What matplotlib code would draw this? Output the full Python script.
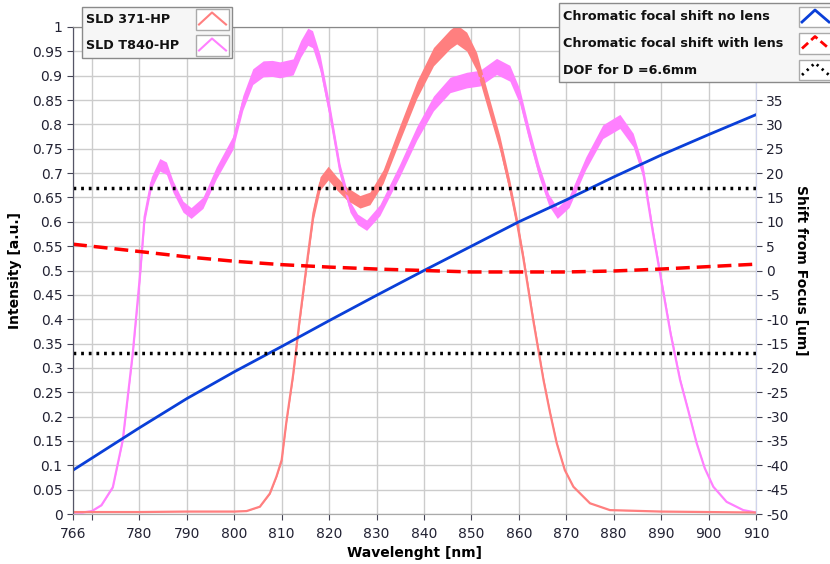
import numpy as np
import matplotlib
matplotlib.use("Agg")
import matplotlib.pyplot as plt
from matplotlib.patches import Rectangle
from matplotlib.lines import Line2D

plt.rcParams['font.family'] = ['DejaVu Sans']
plt.rcParams['axes.unicode_minus'] = False

# SLD 371-HP spectrum (wavelength nm, normalised intensity)
wl_371 = [766, 780, 790, 800, 802.6, 805.4, 807.5, 808.9, 810, 811, 812.4, 813.8,
          815.3, 816.7, 818.1, 819.8, 821.6, 823.7, 826.5, 828.6, 831.4, 834.9,
          838.5, 842, 845.5, 846.9, 849, 851.1, 853.2, 856, 858.1, 859.5, 860.9,
          863, 865.2, 866.6, 868, 869.7, 871.5, 875, 879.2, 890, 900, 910]
int_371 = [0.004, 0.004, 0.005, 0.005, 0.006, 0.015, 0.042, 0.077, 0.111, 0.19, 0.285, 0.40,
           0.515, 0.618, 0.679, 0.70, 0.679, 0.658, 0.641, 0.648, 0.693, 0.782,
           0.871, 0.939, 0.975, 0.985, 0.97, 0.929, 0.857, 0.761, 0.672, 0.604, 0.528,
           0.40, 0.275, 0.207, 0.145, 0.09, 0.056, 0.022, 0.008, 0.005, 0.004, 0.003]

# SLD T840-HP spectrum
wl_t840 = [766, 768, 770, 772, 774.4, 776.5, 778.6, 780.1, 781.1, 782.5, 784.3, 785.7,
           787.1, 789.2, 790.9, 793.4, 796.2, 799.7, 801.8, 803.9, 806.1, 808, 809.6,
           812.4, 814, 815.5, 816.5, 818.1, 820.2, 822.3, 824.4, 826, 827.9, 830.7,
           834.9, 838.5, 842, 845.5, 849, 851.8, 855.3, 858.1, 860.2, 862.1, 864.2,
           866.3, 868.1, 870.6, 874.1, 877.7, 881.3, 884.1, 886.2, 888.3, 890.5, 892,
           894, 895.7, 897.5, 899.2, 901, 903.8, 907.3, 910]
int_t840 = [0.003, 0.003, 0.006, 0.018, 0.055, 0.152, 0.33, 0.487, 0.61, 0.68, 0.717, 0.71,
            0.672, 0.631, 0.618, 0.639, 0.70, 0.762, 0.844, 0.898, 0.914, 0.915, 0.912,
            0.918, 0.955, 0.98, 0.975, 0.926, 0.823, 0.706, 0.631, 0.605, 0.593, 0.624,
            0.706, 0.782, 0.843, 0.881, 0.891, 0.895, 0.919, 0.905, 0.857, 0.782, 0.706,
            0.645, 0.618, 0.641, 0.72, 0.785, 0.806, 0.768, 0.703, 0.576, 0.453, 0.37,
            0.275, 0.213, 0.145, 0.094, 0.056, 0.025, 0.008, 0.003]

# chromatic focal shift (um)
wl_shift = [766, 780, 790, 800, 810, 820, 830, 840, 850, 860, 870, 880, 890, 900, 910]
shift_no_lens = [-41, -32.3, -26.3, -20.8, -15.6, -10.3, -5.1, 0, 5.0, 10.0, 14.5, 19.2, 23.7, 27.9, 32]
shift_with_lens = [5.4, 3.9, 2.8, 1.9, 1.2, 0.7, 0.3, 0.0, -0.3, -0.3, -0.3, -0.1, 0.3, 0.8, 1.3]
dof_limits = [17, -17]

x_ticks = [766, 770, 780, 790, 800, 810, 820, 830, 840, 850, 860, 870, 880, 890, 900, 910]
x_labels = ["766", ""] + [str(t) for t in x_ticks[2:]]
# right axis labels above 35 sit behind the legend box
r_ticks = list(range(-50, 51, 5))
r_labels = [str(t) if t <= 35 else "" for t in r_ticks]

legend_left = ["SLD 371-HP", "SLD T840-HP"]
legend_right = ["Chromatic focal shift no lens", "Chromatic focal shift with lens", "DOF for D =6.6mm"]

c_371 = "#ff7f7f"
c_t840 = "#ff80ff"
c_blue = "#0a3fd8"
c_red = "#ff0000"

W, H = 830, 564
fig = plt.figure(figsize=(8.3, 5.64), dpi=100)
ax = fig.add_axes([73 / W, 50 / H, 683 / W, 487 / H])
ax2 = ax.twinx()

# noisy spectra: thin centre line plus a narrow band showing the measurement noise
w1, i1 = np.array(wl_371), np.array(int_371)
w2, i2 = np.array(wl_t840), np.array(int_t840)
ax.fill_between(w2, i2 * 0.982, i2 * 1.018, color=c_t840, lw=0)
ax.plot(w2, i2, color=c_t840, lw=1.6)
ax.fill_between(w1, i1 * 0.98, i1 * 1.02, color=c_371, lw=0)
ax.plot(w1, i1, color=c_371, lw=1.6)

ax.set_xlim(766, 910)
ax.set_ylim(0, 1)
ax.set_xticks(x_ticks)
ax.set_xticklabels(x_labels)
yt = np.round(np.arange(0, 1.001, 0.05), 2)
ax.set_yticks(yt)
ax.set_yticklabels([f"{v:g}" for v in yt])
ax.grid(True, color="#cccccc", lw=1)
ax.set_axisbelow(True)
ax.tick_params(labelsize=10, colors="#444455", labelcolor="#222233", length=4)
ax.tick_params(axis="x", pad=5)
ax.set_xlabel("Wavelenght [nm]", fontsize=10, fontweight="bold", labelpad=4)
ax.set_ylabel("Intensity [a.u.]", fontsize=10, fontweight="bold", labelpad=7)

ax2.plot(wl_shift, shift_no_lens, color=c_blue, lw=2)
ax2.plot(wl_shift, shift_with_lens, color=c_red, lw=2.5, dashes=(4, 2))
for d in dof_limits:
    ax2.plot([766, 910], [d, d], color="black", lw=2.5, dashes=(0.8, 1.4))
ax2.set_ylim(-50, 50)
ax2.set_yticks(r_ticks)
ax2.set_yticklabels(r_labels)
ax2.tick_params(labelsize=10, colors="#444455", labelcolor="#222233", length=4)
ax2.set_ylabel("Shift from Focus [um]", fontsize=10, fontweight="bold", rotation=270, labelpad=14)

for a in (ax, ax2):
    a.spines["left"].set_color("#555566")
    a.spines["bottom"].set_color("#aaaaaa")
    a.spines["top"].set_color("#888888")
    a.spines["right"].set_color("#d0d4ec")


# LabVIEW style legend boxes, drawn in figure pixels
def fx(px):
    return px / W


def fy(py):
    return 1 - py / H


def legend_box(x0, y0, x1, y1, labels, styles, hx0, row_h, first_row):
    fig.patches.append(Rectangle((fx(x0), fy(y1)), fx(x1 - x0), (y1 - y0) / H,
                                 transform=fig.transFigure, facecolor="#f6f6f6",
                                 edgecolor="#8a8a8a", lw=1, zorder=10))
    for k, (lab, st) in enumerate(zip(labels, styles)):
        yc = first_row + k * row_h
        fig.text(fx(x0 + 4), fy(yc), lab, fontsize=9.2, fontweight="bold",
                 va="center", ha="left", color="#111111", zorder=11)
        fig.patches.append(Rectangle((fx(hx0), fy(yc + 10)), fx(33), 20 / H,
                                     transform=fig.transFigure, facecolor="white",
                                     edgecolor="#aaaaaa", lw=1, zorder=11))
        fig.lines.append(Line2D([fx(hx0 + 3), fx(hx0 + 16), fx(hx0 + 30)],
                                [fy(yc + 5), fy(yc - 7), fy(yc + 5)],
                                transform=fig.transFigure, zorder=12, **st))


legend_box(82, 7, 232, 58, legend_left,
           [dict(color=c_371, lw=1.5), dict(color=c_t840, lw=1.5)],
           196, 26, 19.5)
legend_box(559, 3, 832, 82, legend_right,
           [dict(color=c_blue, lw=2), dict(color=c_red, lw=2, dashes=(3, 1.5)),
            dict(color="black", lw=2, dashes=(0.8, 1.6))],
           799, 26.5, 17)

fig.savefig("out.png", dpi=100)
